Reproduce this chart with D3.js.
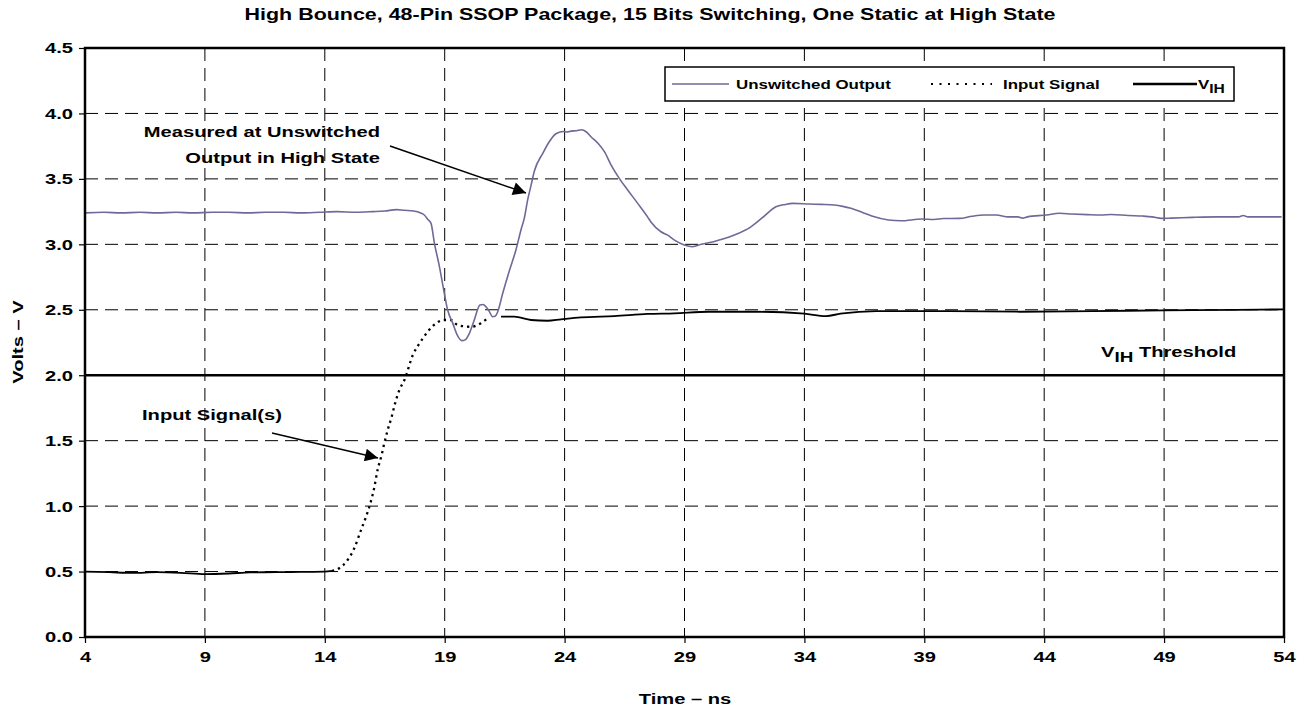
<!DOCTYPE html>
<html>
<head>
<meta charset="utf-8">
<script src="https://cdn.jsdelivr.net/npm/d3@7"></script>
<style>
  html, body { margin: 0; padding: 0; background: #fff; }
  svg { display: block; font-family: "Liberation Sans", Arial, sans-serif; font-weight: bold; }
</style>
</head>
<body>
<svg id="chart" width="1299" height="709"></svg>
<script>
// ---------------- DATA ----------------
const chartTitle = "High Bounce, 48-Pin SSOP Package, 15 Bits Switching, One Static at High State";
const xTickValues = [4, 9, 14, 19, 24, 29, 34, 39, 44, 49, 54];
const yTickValues = [0.0, 0.5, 1.0, 1.5, 2.0, 2.5, 3.0, 3.5, 4.0, 4.5];
const vihLevel = 2.0;

// Unswitched output (V) vs time (ns)
const outputTime = [4, 4.8, 5.5, 6.3, 7, 7.8, 8.5, 9.3, 10, 10.8, 11.5, 12.3, 13, 13.8, 14.5, 15.3, 16, 16.5, 17.0, 17.3, 17.7, 18.0, 18.15, 18.3, 18.43, 18.57, 18.78, 18.98, 19.12, 19.33, 19.54, 19.71, 19.85, 20.03, 20.23, 20.47, 20.6, 20.72, 20.85, 21.0, 21.1, 21.21, 21.42, 21.7, 21.97, 22.18, 22.32, 22.46, 22.6, 22.74, 23.09, 23.36, 23.64, 23.96, 24.1, 24.27, 24.5, 24.7, 24.9, 25.1, 25.4, 25.66, 25.94, 26.28, 26.63, 27.05, 27.46, 27.6, 28.02, 28.3, 28.6, 28.99, 29.34, 29.7, 30.21, 30.6, 31.08, 31.77, 32.29, 32.81, 33.2, 33.51, 34.2, 34.7, 35.25, 35.6, 35.94, 36.4, 36.81, 37.51, 38.03, 38.9, 39.4, 39.8, 40.46, 41.0, 41.5, 42.0, 42.5, 42.9, 43.1, 43.3, 44.1, 44.63, 45.15, 45.8, 46.37, 46.8, 47.5, 48.11, 48.5, 48.89, 49.3, 50.19, 51.2, 52.1, 52.3, 52.5, 53.9];
const outputVolts = [3.24, 3.245, 3.24, 3.245, 3.24, 3.245, 3.24, 3.245, 3.245, 3.24, 3.245, 3.245, 3.24, 3.245, 3.25, 3.245, 3.25, 3.255, 3.265, 3.26, 3.255, 3.24, 3.224, 3.19, 3.16, 3.01, 2.83, 2.63, 2.50, 2.40, 2.30, 2.264, 2.27, 2.32, 2.42, 2.536, 2.54, 2.523, 2.49, 2.447, 2.45, 2.485, 2.626, 2.80, 2.957, 3.11, 3.20, 3.34, 3.45, 3.56, 3.695, 3.784, 3.845, 3.862, 3.858, 3.865, 3.868, 3.876, 3.86, 3.822, 3.77, 3.708, 3.606, 3.504, 3.415, 3.313, 3.21, 3.17, 3.096, 3.07, 3.03, 2.995, 2.982, 3.0, 3.02, 3.04, 3.071, 3.134, 3.21, 3.287, 3.305, 3.313, 3.308, 3.305, 3.30, 3.29, 3.275, 3.245, 3.216, 3.186, 3.18, 3.193, 3.19, 3.197, 3.198, 3.215, 3.224, 3.224, 3.21, 3.21, 3.20, 3.21, 3.224, 3.237, 3.232, 3.227, 3.224, 3.228, 3.22, 3.216, 3.21, 3.198, 3.20, 3.206, 3.21, 3.21, 3.22, 3.21, 3.21];

// Input signal (V) vs time (ns)
const inputTime = [4, 5, 6, 7, 8, 9, 10, 10.9, 12, 13, 13.98, 14.3, 14.6, 14.95, 15.23, 15.51, 15.72, 15.9, 16.07, 16.2, 16.37, 16.48, 16.62, 16.79, 16.93, 17.11, 17.32, 17.67, 17.95, 18.29, 18.64, 18.98, 19.26, 19.54, 20.1, 20.51, 20.79, 21.35, 21.9, 22.6, 23.29, 23.85, 24.68, 26.07, 27.46, 28.57, 30, 32, 34, 34.9, 35.5, 37, 40, 43, 46, 49, 52, 54];
const inputVolts = [0.50, 0.495, 0.49, 0.495, 0.49, 0.48, 0.485, 0.494, 0.495, 0.497, 0.499, 0.505, 0.525, 0.588, 0.678, 0.817, 0.919, 1.021, 1.148, 1.276, 1.39, 1.48, 1.58, 1.683, 1.785, 1.887, 1.963, 2.154, 2.244, 2.332, 2.397, 2.422, 2.422, 2.383, 2.37, 2.397, 2.435, 2.447, 2.447, 2.422, 2.416, 2.427, 2.442, 2.452, 2.468, 2.473, 2.485, 2.485, 2.47, 2.452, 2.47, 2.49, 2.49, 2.485, 2.49, 2.495, 2.50, 2.503];
// time span (ns) where the input trace appears dotted (the fast edge)
const inputDottedSpan = [14.5, 20.8];

// ---------------- LAYOUT ----------------
const SX = 1.3; // horizontal stretch of the reference lettering
const FS = 15.5; // base font size
const margin = { left: 85, right: 1284, top: 48, bottom: 637 };
const svg = d3.select("#chart");

const x = d3.scaleLinear().domain([4, 54]).range([margin.left, margin.right]);
const y = d3.scaleLinear().domain([0, 4.5]).range([margin.bottom, margin.top]);

function stretchedText(parent, px, py, str, size, anchor) {
  return parent.append("text")
    .attr("transform", `translate(${px},${py}) scale(${SX},1)`)
    .attr("text-anchor", anchor || "start")
    .attr("font-size", size)
    .attr("fill", "#000")
    .text(str);
}

// Title
stretchedText(svg, 650, 20, chartTitle, 16.5, "middle");

// Grid
const grid = svg.append("g").attr("stroke", "#000").attr("stroke-width", 1).attr("stroke-dasharray", "13,7");
grid.selectAll("line.v").data(xTickValues.slice(1, -1)).join("line")
  .attr("x1", d => x(d)).attr("x2", d => x(d)).attr("y1", margin.top).attr("y2", margin.bottom);
grid.selectAll("line.h").data(yTickValues.filter(v => v > 0 && v < 4.5 && v !== vihLevel)).join("line")
  .attr("x1", margin.left).attr("x2", margin.right).attr("y1", d => y(d)).attr("y2", d => y(d));

// Clip
svg.append("clipPath").attr("id", "plotclip").append("rect")
  .attr("x", margin.left).attr("y", margin.top)
  .attr("width", margin.right - margin.left).attr("height", margin.bottom - margin.top);

const plot = svg.append("g").attr("clip-path", "url(#plotclip)");

// VIH line
plot.append("line")
  .attr("x1", x(4)).attr("x2", x(54)).attr("y1", y(vihLevel)).attr("y2", y(vihLevel))
  .attr("stroke", "#000").attr("stroke-width", 2.5);

const line = d3.line().x(d => x(d[0])).y(d => y(d[1])).curve(d3.curveMonotoneX);

// Input signal
const inputPts = inputTime.map((t, i) => [t, inputVolts[i]]);
const inBefore = inputPts.filter(p => p[0] <= inputDottedSpan[0]);
const inDotted = inputPts.filter(p => p[0] >= inputDottedSpan[0] - 0.3 && p[0] <= inputDottedSpan[1] + 0.3);
const inAfter = inputPts.filter(p => p[0] >= inputDottedSpan[1]);
plot.append("path").attr("d", line(inBefore)).attr("fill", "none").attr("stroke", "#000").attr("stroke-width", 1.8);
plot.append("path").attr("d", line(inDotted)).attr("fill", "none").attr("stroke", "#000").attr("stroke-width", 2.3).attr("stroke-dasharray", "2.3,4");
plot.append("path").attr("d", line(inAfter)).attr("fill", "none").attr("stroke", "#000").attr("stroke-width", 1.8);

// Unswitched output
const outPts = outputTime.map((t, i) => [t, outputVolts[i]]);
plot.append("path").attr("d", line(outPts)).attr("fill", "none").attr("stroke", "#6d6a97").attr("stroke-width", 1.6);

// Axes
const yAxis = svg.append("g").attr("transform", `translate(${margin.left},0)`)
  .call(d3.axisLeft(y).tickValues(yTickValues).tickSize(6).tickPadding(7).tickFormat(d => d.toFixed(1)));
yAxis.select(".domain").remove();
yAxis.selectAll(".tick line").attr("stroke", "#000").attr("stroke-width", 1.2);
yAxis.selectAll(".tick text")
  .attr("font-family", "Liberation Sans, Arial, sans-serif").attr("font-weight", "bold").attr("font-size", FS)
  .attr("fill", "#000")
  .attr("x", -12 / SX).attr("transform", `scale(${SX},1)`);

const xAxis = svg.append("g").attr("transform", `translate(0,${margin.bottom})`)
  .call(d3.axisBottom(x).tickValues(xTickValues).tickSize(6).tickPadding(8).tickFormat(d3.format("d")));
xAxis.select(".domain").remove();
xAxis.selectAll(".tick line").attr("stroke", "#000").attr("stroke-width", 1.2);
xAxis.selectAll(".tick text")
  .attr("font-family", "Liberation Sans, Arial, sans-serif").attr("font-weight", "bold").attr("font-size", FS)
  .attr("fill", "#000")
  .attr("y", 25).attr("dy", 0).attr("transform", `scale(${SX},1)`);

// Plot border
svg.append("rect")
  .attr("x", margin.left).attr("y", margin.top)
  .attr("width", margin.right - margin.left).attr("height", margin.bottom - margin.top)
  .attr("fill", "none").attr("stroke", "#000").attr("stroke-width", 2.5);

// Axis titles
stretchedText(svg, 685, 704, "Time – ns", FS, "middle");
svg.append("text")
  .attr("transform", `translate(23,342) rotate(-90) scale(${SX},1)`)
  .attr("text-anchor", "middle").attr("font-size", FS).attr("fill", "#000")
  .text("Volts – V");

// VIH Threshold label
const vt = svg.append("text")
  .attr("transform", `translate(1101,357) scale(${SX},1)`)
  .attr("font-size", FS).attr("fill", "#000");
vt.append("tspan").text("V");
vt.append("tspan").attr("dy", 5).attr("font-size", 14.5).text("IH");
vt.append("tspan").attr("dy", -5).text(" Threshold");

// Annotations
stretchedText(svg, 380, 137, "Measured at Unswitched", FS, "end");
stretchedText(svg, 380, 163, "Output in High State", FS, "end");
stretchedText(svg, 142, 420, "Input Signal(s)", FS, "start");

svg.append("defs").append("marker")
  .attr("id", "arrow").attr("viewBox", "0 0 10 10").attr("refX", 10).attr("refY", 5)
  .attr("markerUnits", "userSpaceOnUse").attr("markerWidth", 17).attr("markerHeight", 13)
  .attr("orient", "auto")
  .append("path").attr("d", "M0,0 L10,5 L0,10 Z").attr("fill", "#000");

svg.append("line").attr("x1", 390).attr("y1", 146).attr("x2", 526).attr("y2", 193)
  .attr("stroke", "#000").attr("stroke-width", 1.5).attr("marker-end", "url(#arrow)");
svg.append("line").attr("x1", 272).attr("y1", 433).attr("x2", 378).attr("y2", 458)
  .attr("stroke", "#000").attr("stroke-width", 1.5).attr("marker-end", "url(#arrow)");

// Legend
const lg = svg.append("g");
lg.append("rect").attr("x", 665).attr("y", 67).attr("width", 569).attr("height", 34)
  .attr("fill", "#fff").attr("stroke", "#000").attr("stroke-width", 1.5);
const ly = 84;
lg.append("line").attr("x1", 672).attr("x2", 729).attr("y1", ly).attr("y2", ly)
  .attr("stroke", "#6d6a97").attr("stroke-width", 1.6);
stretchedText(lg, 736, ly + 5, "Unswitched Output", 13, "start");
lg.append("line").attr("x1", 931).attr("x2", 992).attr("y1", ly).attr("y2", ly)
  .attr("stroke", "#000").attr("stroke-width", 2).attr("stroke-dasharray", "2,6.5");
stretchedText(lg, 1003, ly + 5, "Input Signal", 13, "start");
lg.append("line").attr("x1", 1133).attr("x2", 1197).attr("y1", ly).attr("y2", ly)
  .attr("stroke", "#000").attr("stroke-width", 2.5);
const lv = lg.append("text").attr("transform", `translate(1198,${ly + 5}) scale(${SX},1)`)
  .attr("font-size", 13).attr("fill", "#000");
lv.append("tspan").text("V");
lv.append("tspan").attr("dy", 4).attr("font-size", 12).text("IH");
</script>
</body>
</html>
